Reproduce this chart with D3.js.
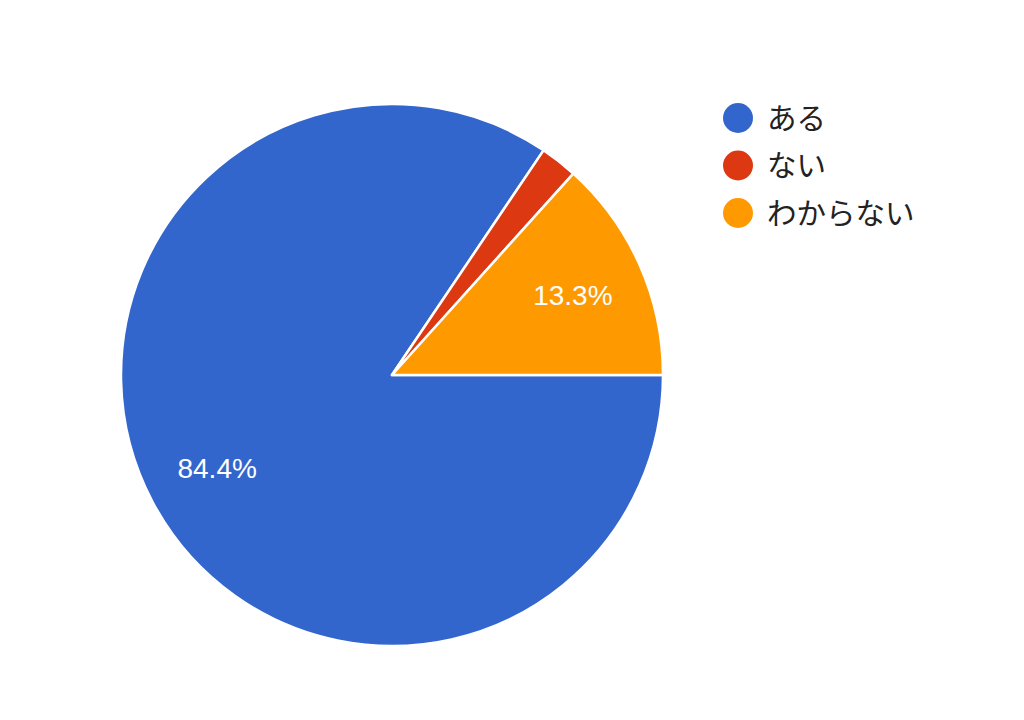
<!DOCTYPE html>
<html><head><meta charset="utf-8">
<script src="https://cdn.jsdelivr.net/npm/d3@7"></script>
<style>
html,body{margin:0;padding:0;background:#fff;}
svg{display:block;}
</style></head>
<body>
<svg id="chart" width="1024" height="720"></svg>
<script>
const categories = ["ある", "ない", "わからない"];
const counts = [38, 1, 6];
const colors = ["#3366cc", "#dc3912", "#ff9900"];

const svg = d3.select("#chart");
const cx = 392, cy = 375, R = 271, labelR = 198;
const total = d3.sum(counts);

const pie = d3.pie().sort(null).value(d => d.v)
  .startAngle(Math.PI / 2).endAngle(Math.PI / 2 + 2 * Math.PI);
const data = categories.map((c, i) => ({c, v: counts[i], color: colors[i]}));
const arcs = pie(data);
const arc = d3.arc().innerRadius(0).outerRadius(R);
const labelArc = d3.arc().innerRadius(labelR).outerRadius(labelR);

const g = svg.append("g").attr("transform", `translate(${cx},${cy})`);
g.selectAll("path").data(arcs).join("path")
  .attr("d", arc).attr("fill", d => d.data.color)
  .attr("stroke", "#fff").attr("stroke-width", 2.5).attr("stroke-linejoin", "round");

const fmt = d3.format(".1f");
g.selectAll("text.lbl").data(arcs.filter(d => d.data.v / total > 0.05)).join("text")
  .attr("class", "lbl")
  .attr("transform", d => `translate(${labelArc.centroid(d)})`)
  .attr("text-anchor", "middle").attr("dy", "0.36em")
  .attr("fill", "#fff").attr("font-family", "Liberation Sans, Arial, sans-serif")
  .attr("font-size", 28)
  .text(d => fmt(d.data.v / total * 100) + "%");

const legend = svg.append("g");
const ly = d3.scalePoint().domain(categories).range([118, 213]);
const items = legend.selectAll("g").data(data).join("g")
  .attr("transform", d => `translate(738,${ly(d.c)})`);
items.append("circle").attr("r", 15).attr("fill", d => d.color);
items.append("text").attr("x", 29).attr("dy", "0.36em")
  .attr("font-family", "Noto Sans CJK JP, sans-serif").attr("font-size", 29.5)
  .attr("fill", "#222").text(d => d.c);
</script>
</body></html>
